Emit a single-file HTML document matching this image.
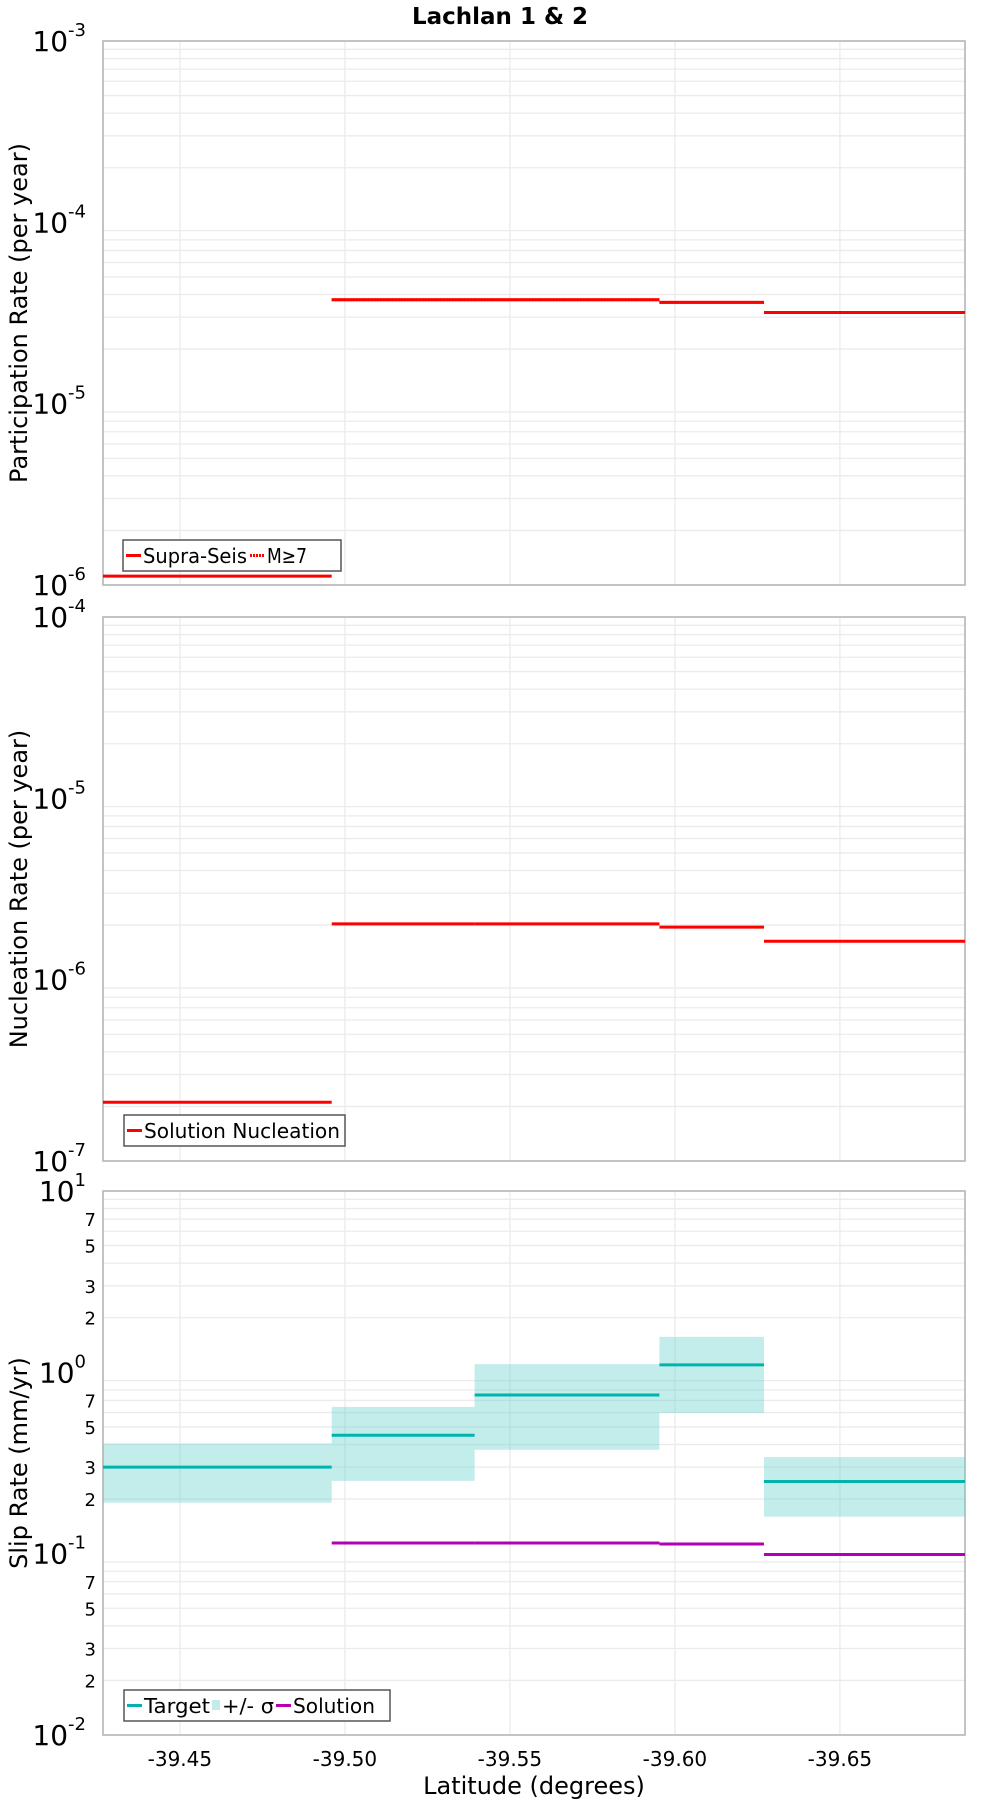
<!DOCTYPE html>
<html><head><meta charset="utf-8"><style>
body{margin:0;background:#fff}
svg{display:block;font-family:"DejaVu Sans","Liberation Sans",sans-serif}
</style></head><body>
<svg id="c" width="1000" height="1800" viewBox="0 0 1000 1800">
<text x="500" y="24" text-anchor="middle" font-size="23" font-weight="bold">Lachlan 1 &amp; 2</text>
</svg>
<script>
// ---- data ----
const segStart = [-39.4267, -39.496, -39.5393, -39.5953, -39.627];
const segEnd   = [-39.496, -39.5393, -39.5953, -39.627, -39.6879];
const supraSeis = [1.12e-6, 3.74e-5, 3.74e-5, 3.62e-5, 3.18e-5];
const m7 = [null, 3.74e-5, 3.74e-5, 3.62e-5, 3.18e-5];
const nucleation = [2.11e-7, 2.03e-6, 2.03e-6, 1.95e-6, 1.63e-6];
const targetSlip = [0.30, 0.45, 0.75, 1.10, 0.25];
const slipUpper = [0.405, 0.645, 1.11, 1.57, 0.341];
const slipLower = [0.191, 0.252, 0.374, 0.597, 0.16];
const solutionSlip = [null, 0.1145, 0.1145, 0.113, 0.099];
const xTicks = [-39.45, -39.50, -39.55, -39.60, -39.65];
const xTickLabels = ["-39.45", "-39.50", "-39.55", "-39.60", "-39.65"];

const svg = document.getElementById('c');
const NS = 'http://www.w3.org/2000/svg';
const L = 103, R = 965, H = 544;
const X0 = -39.4267, X1 = -39.6879;
function xs(v){ return L + (v - X0) / (X1 - X0) * (R - L); }
function mk(tag, attrs, name, parent){
  const e = document.createElementNS(NS, tag);
  for (const k in attrs) e.setAttribute(k, attrs[k]);
  
  
  (parent || svg).appendChild(e);
  return e;
}
function panel(top, decLo, decHi, minorLabels, ytitle, pname){
  const g = mk('g', {}, pname);
  const ys = v => top + (decHi - Math.log10(v)) / (decHi - decLo) * H;
  for (let d = decLo; d < decHi; d++) for (let m = 1; m < 10; m++) {
    const y = ys(m * Math.pow(10, d));
    if (m > 1) mk('line', {x1:L, x2:R, y1:y, y2:y, stroke:'#ebebeb', 'stroke-width':1.3}, 'minor-gridline', g);
    if (minorLabels && (m===2||m===3||m===5||m===7)) {
      const t = mk('text', {x:96, y:y+7, 'text-anchor':'end', 'font-size':18}, 'y-minor-tick-label', g); t.textContent = m;
    }
  }
  xTicks.forEach(v => mk('line', {x1:xs(v), x2:xs(v), y1:top, y2:top+H, stroke:'#ebebeb', 'stroke-width':1.3}, 'x-gridline', g));
  for (let d = decLo; d <= decHi; d++) {
    const y = ys(Math.pow(10, d));
    const t = mk('text', {x:86, y:y+10, 'text-anchor':'end', 'font-size':28}, 'y-tick-label', g);
    t.textContent = '10';
    const s = mk('tspan', {'font-size':18, dy:-15}, 'y-tick-exponent', t); s.textContent = d;
  }
  mk('rect', {x:L, y:top, width:R-L, height:H, fill:'none', stroke:'#b0b0b0', 'stroke-width':1.5}, 'plot-border', g);
  const cy = top + H/2;
  const tt = mk('text', {x:0, y:0, transform:`translate(27,${cy}) rotate(-90)`, 'text-anchor':'middle', 'font-size':24}, 'y-axis-title', g);
  tt.textContent = ytitle;
  return {g, ys};
}
function steps(p, arr, color, name, dash){
  arr.forEach((v,i)=>{ if (v==null) return;
    const y = p.ys(v);
    const a = {x1:xs(segStart[i]), x2:xs(segEnd[i]), y1:y, y2:y, stroke:color, 'stroke-width':3};
    if (dash) a['stroke-dasharray'] = dash;
    mk('line', a, name, p.g);
  });
}
function legend(p, x, y, w, items){
  mk('rect', {x, y, width:w, height:31, fill:'#fff', stroke:'#555', 'stroke-width':1.5}, 'legend-box', p.g);
  let cx = x + 3;
  items.forEach(it=>{
    if (it.band) mk('rect', {x:cx, y:y+10, width:8, height:10, fill:'#c2ebe9'}, 'legend-swatch', p.g);
    else mk('line', {x1:cx, x2:cx+15, y1:y+15.5, y2:y+15.5, stroke:it.c, 'stroke-width':3, 'stroke-dasharray':it.dash||'none'}, 'legend-swatch', p.g);
    cx += it.band ? 10 : 17;
    const t = mk('text', {x:cx, y:y+23, 'font-size':20, textLength:it.tl, lengthAdjust:'spacingAndGlyphs'}, 'legend-entry', p.g); t.textContent = it.t;
    cx += it.w;
  });
}
const p1 = panel(41, -6, -3, false, 'Participation Rate (per year)', 'participation-panel');
steps(p1, supraSeis, '#ff0000', 'supra-seis-line');
steps(p1, m7, '#ff0000', 'm7-line', '2,1');
legend(p1, 123, 540, 218, [{c:'#f00', t:'Supra-Seis', w:107, tl:104},{c:'#f00', t:'M≥7', w:40, tl:40, dash:'2,1'}]);
const p2 = panel(617, -7, -4, false, 'Nucleation Rate (per year)', 'nucleation-panel');
steps(p2, nucleation, '#ff0000', 'nucleation-line');
legend(p2, 124, 1115, 221, [{c:'#f00', t:'Solution Nucleation', w:198, tl:196}]);
const p3 = panel(1191, -2, 1, true, 'Slip Rate (mm/yr)', 'slip-panel');
slipUpper.forEach((u,i)=>{
  const y1 = p3.ys(u), y2 = p3.ys(slipLower[i]);
  mk('rect', {x:xs(segStart[i]), y:y1, width:xs(segEnd[i])-xs(segStart[i]), height:y2-y1, fill:'#5ccfc9', 'fill-opacity':0.37}, 'sigma-band', p3.g);
});
steps(p3, targetSlip, '#00b3ad', 'target-line');
steps(p3, solutionSlip, '#b400b4', 'solution-line');
legend(p3, 124, 1690, 266, [{c:'#00b3ad', t:'Target', w:68, tl:66},{band:true, t:'+/- σ', w:54, tl:52},{c:'#b400b4', t:'Solution', w:82, tl:82}]);
xTicks.forEach((v,i)=>{
  const t = mk('text', {x:xs(v), y:1766, 'text-anchor':'middle', 'font-size':20}, 'x-tick-label');
  t.textContent = xTickLabels[i];
});
const xt = mk('text', {x:534, y:1794, 'text-anchor':'middle', 'font-size':24}, 'x-axis-title');
xt.textContent = 'Latitude (degrees)';
</script>
</body></html>
